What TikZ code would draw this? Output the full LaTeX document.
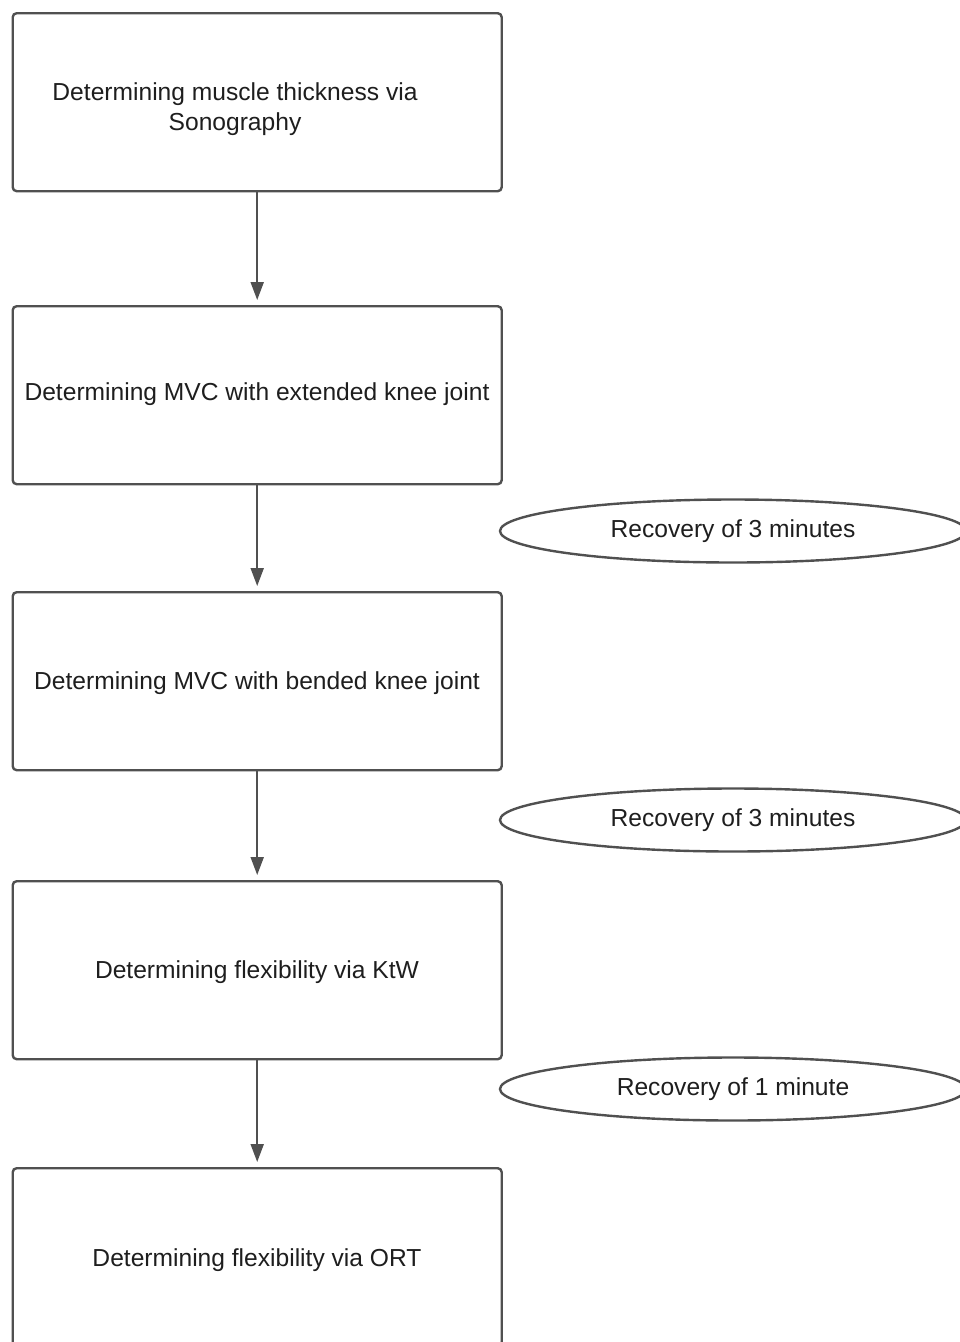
\documentclass[tikz,border=0pt]{standalone}
\usepackage{fontspec}
\setmainfont{Liberation Sans}
\usetikzlibrary{arrows.meta,shapes.geometric}
\definecolor{linegray}{HTML}{505050}
\definecolor{textgray}{HTML}{1E1E1E}
\begin{document}
\begin{tikzpicture}[x=1pt,y=-1pt,
  stepbox/.style={draw=linegray,line width=2.4pt,rounded corners=4pt,minimum width=489pt,minimum height=178pt,inner sep=0pt,anchor=north west},
  pausebox/.style={draw=linegray,line width=2.4pt,ellipse,minimum width=466pt,minimum height=63pt,inner sep=0pt,text=textgray,font=\fontsize{24.6}{30}\selectfont},
  label/.style={text=textgray,font=\fontsize{24.6}{30}\selectfont,align=center,inner sep=0pt},
  flow/.style={draw=linegray,line width=2pt,-{Triangle[length=18pt,width=13pt]},shorten >=5pt}
]
\useasboundingbox (0,0) rectangle (960,1342);
\fill[white] (0,0) rectangle (960,1342);

\node[stepbox] (b1) at (11.5,12) {};
\node[stepbox] (b2) at (11.5,305) {};
\node[stepbox] (b3) at (11.5,591) {};
\node[stepbox] (b4) at (11.5,880) {};
\node[stepbox] (b5) at (11.5,1167) {};

\node[label] (t1) at (235,109) {Determining muscle thickness via\\Sonography};
\node[label] (t2) at (257,394) {Determining MVC with extended knee joint};
\node[label] (t3) at (257,683) {Determining MVC with bended knee joint};
\node[label] (t4) at (257,972) {Determining flexibility via KtW};
\node[label] (t5) at (257,1260) {Determining flexibility via ORT};

\node[pausebox] (r1) at (733,531) {Recovery of 3 minutes};
\node[pausebox] (r2) at (733,820) {Recovery of 3 minutes};
\node[pausebox] (r3) at (733,1089) {Recovery of 1 minute};

\draw[flow] (b1.south) -- (b2.north);
\draw[flow] (b2.south) -- (b3.north);
\draw[flow] (b3.south) -- (b4.north);
\draw[flow] (b4.south) -- (b5.north);
\end{tikzpicture}
\end{document}
